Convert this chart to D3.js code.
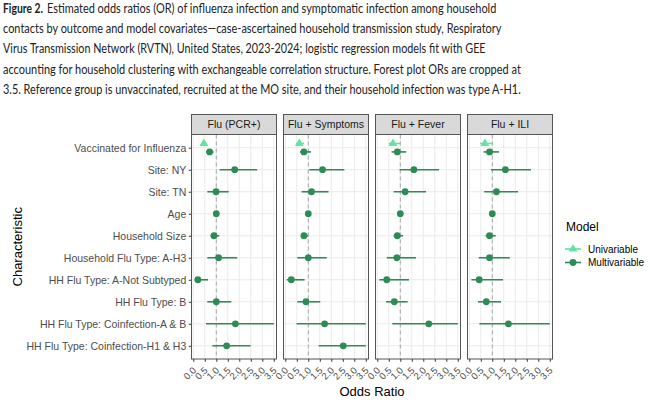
<!DOCTYPE html>
<html>
<head>
<meta charset="utf-8">
<script src="https://cdn.jsdelivr.net/npm/d3@7"></script>
<style>
    body { margin: 0; background: #fff; }
    #chart { width: 650px; height: 402px; }
</style>
</head>
<body>
<div id="chart"></div>
<script>

// caption lines
let captionLines = [
    "Estimated odds ratios (OR) of influenza infection and symptomatic infection among household",
    "contacts by outcome and model covariates\u2014case-ascertained household transmission study, Respiratory",
    "Virus Transmission Network (RVTN), United States, 2023-2024; logistic regression models fit with GEE",
    "accounting for household clustering with exchangeable correlation structure. Forest plot ORs are cropped at",
    "3.5. Reference group is unvaccinated, recruited at the MO site, and their household infection was type A-H1."
];

let characteristics = [
    "Vaccinated for Influenza",
    "Site: NY",
    "Site: TN",
    "Age",
    "Household Size",
    "Household Flu Type: A-H3",
    "HH Flu Type: A-Not Subtyped",
    "HH Flu Type: B",
    "HH Flu Type: Coinfection-A & B",
    "HH Flu Type: Coinfection-H1 & H3"
];

let outcomes = ["Flu (PCR+)", "Flu + Symptoms", "Flu + Fever", "Flu + ILI"];

let xTicks = [0, 0.5, 1, 1.5, 2, 2.5, 3, 3.5];

// [OR, lower, upper] per characteristic, null when not estimated
let pcrMulti = [
    [0.71, 0.56, 0.88], [1.80, 1.14, 2.78], [0.99, 0.61, 1.54], [1.00, 0.96, 1.04],
    [0.90, 0.75, 1.13], [1.10, 0.61, 1.91], [0.20, 0.06, 0.64], [1.00, 0.61, 1.65],
    [1.83, 0.55, 3.5], [1.45, 0.83, 2.49]
];
let symptomsMulti = [
    [0.81, 0.64, 1.12], [1.62, 1.04, 2.57], [1.14, 0.71, 1.88], [1.00, 0.96, 1.04],
    [0.81, 0.70, 0.99], [1.00, 0.52, 1.80], [0.26, 0.06, 0.84], [0.90, 0.52, 1.52],
    [1.71, 0.49, 3.5], [2.52, 1.45, 3.5]
];
let feverMulti = [
    [0.87, 0.62, 1.26], [1.59, 0.97, 2.68], [1.21, 0.71, 2.12], [1.00, 0.96, 1.04],
    [0.87, 0.71, 1.12], [0.85, 0.41, 1.68], [0.41, 0.09, 1.38], [0.74, 0.38, 1.32],
    [2.24, 0.65, 3.5], null
];
let iliMulti = [
    [0.88, 0.62, 1.29], [1.57, 0.94, 2.68], [1.18, 0.65, 2.12], [1.00, 0.96, 1.04],
    [0.88, 0.71, 1.15], [0.88, 0.41, 1.76], [0.43, 0.09, 1.47], [0.74, 0.38, 1.38],
    [1.70, 0.44, 3.5], null
];

// univariable model only fit for vaccination
let pcrUni = [0.46, 0.38, 0.56];
let symptomsUni = [0.61, 0.46, 0.82];
let feverUni = [0.68, 0.50, 1.03];
let iliUni = [0.68, 0.47, 1.03];

let multiByOutcome = [pcrMulti, symptomsMulti, feverMulti, iliMulti];
let uniByOutcome = [pcrUni, symptomsUni, feverUni, iliUni];

let uniColour = "#62e3a3";
let multiColour = "#2e8b57";


class ForestPlot {

    constructor(parentElement) {
        this.parentElement = parentElement;
        this.initVis();
    }

    initVis() {
        let vis = this;

        vis.width = 650;
        vis.height = 402;

        vis.svg = d3.select("#" + vis.parentElement)
            .append("svg")
            .attr("width", vis.width)
            .attr("height", vis.height)
            .style("font-family", "'Liberation Sans', Arial, sans-serif");

        // caption: squeeze each line horizontally to the width seen in the figure
        let captionFont = "Lato, 'Open Sans', sans-serif";
        function captionLine(str, x0, x1, y, bold) {
            let g = vis.svg.append("g");
            let t = g.append("text")
                .attr("x", 0).attr("y", 0)
                .style("font-family", captionFont)
                .style("font-size", "14px")
                .style("font-weight", bold ? "bold" : "normal")
                .attr("fill", "#222")
                .text(str);
            let natural = t.node().getComputedTextLength();
            let sx = (x1 - x0) / natural;
            g.attr("transform", `translate(${x0}, ${y}) scale(${sx}, 1)`);
        }

        captionLine("Figure 2.", 3, 43, 13, true);
        let captionStarts = [47, 3, 3, 3, 3];
        let captionEnds = [497, 502, 486, 521, 521];
        captionLines.forEach(function(line, i) {
            captionLine(line, captionStarts[i], captionEnds[i], 13 + i * 20.2, false);
        });

        // panel geometry
        vis.panelLeft = 191.5;
        vis.panelW = 85;
        vis.panelGap = 7;
        vis.stripTop = 114.5;
        vis.stripH = 20;
        vis.panelTop = vis.stripTop + vis.stripH;
        vis.panelBottom = 359;

        vis.x = d3.scaleLinear()
            .domain([-0.078, 3.618])
            .range([0, vis.panelW]);

        vis.y = d3.scalePoint()
            .domain(characteristics)
            .range([vis.panelTop, vis.panelBottom])
            .padding(0.6);

        vis.updateVis();
    }

    updateVis() {
        let vis = this;
        let dodge = 4.2;

        // y axis labels
        let yAxis = d3.axisLeft(vis.y).tickSize(2.75).tickPadding(2.5);
        let yG = vis.svg.append("g")
            .attr("transform", `translate(${vis.panelLeft}, 0)`)
            .call(yAxis);
        yG.select(".domain").remove();
        yG.selectAll(".tick line").attr("stroke", "#333");
        yG.selectAll(".tick text")
            .attr("fill", "#4d4d4d")
            .style("font-size", "10.5px")
            .style("font-family", "'Liberation Sans', Arial, sans-serif");

        outcomes.forEach(function(outcome, p) {
            let left = vis.panelLeft + p * (vis.panelW + vis.panelGap);
            let g = vis.svg.append("g").attr("transform", `translate(${left}, 0)`);

            // panel background and grid
            g.append("rect")
                .attr("x", 0).attr("y", vis.panelTop)
                .attr("width", vis.panelW).attr("height", vis.panelBottom - vis.panelTop)
                .attr("fill", "#fff");

            g.selectAll(".vgrid")
                .data(xTicks)
                .enter()
                .append("line")
                .attr("x1", d => vis.x(d)).attr("x2", d => vis.x(d))
                .attr("y1", vis.panelTop).attr("y2", vis.panelBottom)
                .attr("stroke", "#ebebeb").attr("stroke-width", 1);

            g.selectAll(".hgrid")
                .data(characteristics)
                .enter()
                .append("line")
                .attr("x1", 0).attr("x2", vis.panelW)
                .attr("y1", d => vis.y(d)).attr("y2", d => vis.y(d))
                .attr("stroke", "#ebebeb").attr("stroke-width", 1);

            // reference line
            g.append("line")
                .attr("x1", vis.x(1)).attr("x2", vis.x(1))
                .attr("y1", vis.panelTop).attr("y2", vis.panelBottom)
                .attr("stroke", "#a6a6a6")
                .attr("stroke-width", 1)
                .attr("stroke-dasharray", "4,3");

            // multivariable estimates
            let multi = multiByOutcome[p]
                .map((d, i) => d ? {cat: characteristics[i], est: d[0], lo: d[1], hi: d[2]} : null)
                .filter(d => d !== null);
            let uni = uniByOutcome[p];

            function yPos(d, model) {
                if (d.cat === characteristics[0]) {
                    return vis.y(d.cat) + (model === "uni" ? -dodge : dodge);
                }
                return vis.y(d.cat);
            }

            g.selectAll(".multi-ci")
                .data(multi)
                .enter()
                .append("line")
                .attr("x1", d => vis.x(d.lo)).attr("x2", d => vis.x(d.hi))
                .attr("y1", d => yPos(d, "multi")).attr("y2", d => yPos(d, "multi"))
                .attr("stroke", multiColour).attr("stroke-width", 1.6);

            g.selectAll(".multi-pt")
                .data(multi)
                .enter()
                .append("circle")
                .attr("cx", d => vis.x(d.est))
                .attr("cy", d => yPos(d, "multi"))
                .attr("r", 3.4)
                .attr("fill", multiColour);

            // univariable estimate
            let u = {cat: characteristics[0], est: uni[0], lo: uni[1], hi: uni[2]};
            g.append("line")
                .attr("x1", vis.x(u.lo)).attr("x2", vis.x(u.hi))
                .attr("y1", yPos(u, "uni")).attr("y2", yPos(u, "uni"))
                .attr("stroke", uniColour).attr("stroke-width", 1.6);
            g.append("path")
                .attr("d", d3.symbol().type(d3.symbolTriangle).size(34)())
                .attr("transform", `translate(${vis.x(u.est)}, ${yPos(u, "uni")})`)
                .attr("fill", uniColour);

            // panel border
            g.append("rect")
                .attr("x", 0).attr("y", vis.panelTop)
                .attr("width", vis.panelW).attr("height", vis.panelBottom - vis.panelTop)
                .attr("fill", "none").attr("stroke", "#555").attr("stroke-width", 1);

            // strip
            g.append("rect")
                .attr("x", 0).attr("y", vis.stripTop)
                .attr("width", vis.panelW).attr("height", vis.stripH)
                .attr("fill", "#d9d9d9").attr("stroke", "#555").attr("stroke-width", 1);
            g.append("text")
                .attr("x", vis.panelW / 2)
                .attr("y", vis.stripTop + vis.stripH / 2 + 3.8)
                .attr("text-anchor", "middle")
                .style("font-size", "10.5px")
                .attr("fill", "#1a1a1a")
                .text(outcome);

            // x axis
            let xG = g.append("g")
                .attr("transform", `translate(0, ${vis.panelBottom})`)
                .call(d3.axisBottom(vis.x).tickValues(xTicks).tickSize(2.75).tickFormat(d3.format(".1f")));
            xG.select(".domain").remove();
            xG.selectAll(".tick line").attr("stroke", "#333");
            xG.selectAll(".tick text")
                .attr("fill", "#4d4d4d")
                .style("font-size", "9.5px")
                .style("font-family", "'Liberation Sans', Arial, sans-serif")
                .attr("text-anchor", "end")
                .attr("y", 0)
                .attr("dy", 0)
                .attr("transform", "translate(3, 12) rotate(-45)");
        });

        // axis titles
        vis.svg.append("text")
            .attr("x", (vis.panelLeft + vis.panelLeft + 4 * vis.panelW + 3 * vis.panelGap) / 2)
            .attr("y", 396)
            .attr("text-anchor", "middle")
            .style("font-size", "13px")
            .attr("fill", "#000")
            .text("Odds Ratio");

        vis.svg.append("text")
            .attr("transform", `translate(22, ${(vis.panelTop + vis.panelBottom) / 2}) rotate(-90)`)
            .attr("text-anchor", "middle")
            .style("font-size", "13px")
            .attr("fill", "#000")
            .text("Characteristic");

        // legend
        let legend = vis.svg.append("g").attr("transform", "translate(566, 0)");
        legend.append("text")
            .attr("x", 0).attr("y", 231)
            .style("font-size", "12px")
            .attr("fill", "#000")
            .text("Model");

        let keys = [
            {label: "Univariable", colour: uniColour, shape: "tri", y: 249},
            {label: "Multivariable", colour: multiColour, shape: "circle", y: 262.5}
        ];
        keys.forEach(function(k) {
            legend.append("line")
                .attr("x1", -1).attr("x2", 15)
                .attr("y1", k.y).attr("y2", k.y)
                .attr("stroke", k.colour).attr("stroke-width", 1.6);
            if (k.shape === "tri") {
                legend.append("path")
                    .attr("d", d3.symbol().type(d3.symbolTriangle).size(34)())
                    .attr("transform", `translate(7, ${k.y})`)
                    .attr("fill", k.colour);
            } else {
                legend.append("circle")
                    .attr("cx", 7).attr("cy", k.y).attr("r", 3.4)
                    .attr("fill", k.colour);
            }
            legend.append("text")
                .attr("x", 22).attr("y", k.y + 3.5)
                .style("font-size", "10px")
                .attr("fill", "#000")
                .text(k.label);
        });
    }
}

new ForestPlot("chart");

</script>
</body>
</html>
